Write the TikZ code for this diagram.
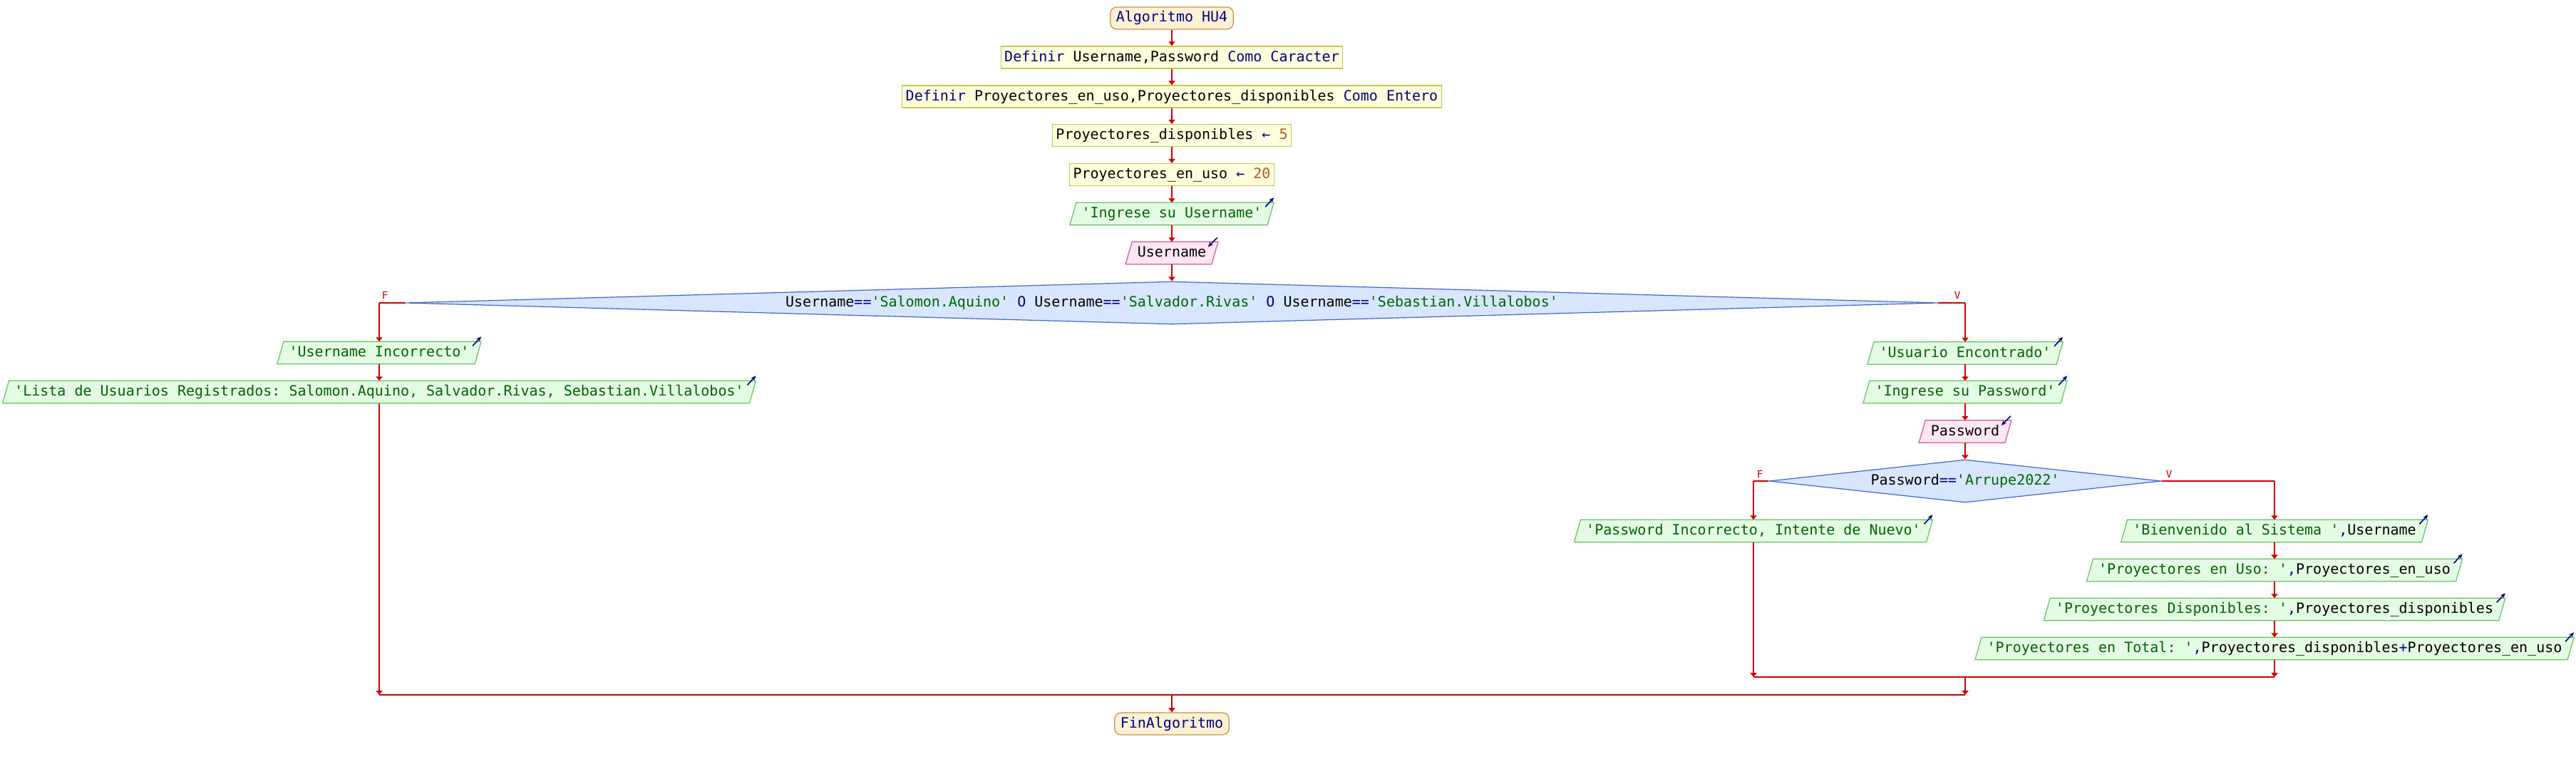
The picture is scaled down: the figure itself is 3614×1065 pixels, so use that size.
\documentclass[tikz,border=0pt]{standalone}
\usepackage{fontspec}
\setmonofont{DejaVu Sans Mono}
\usetikzlibrary{shapes.geometric,arrows.meta,backgrounds}
\definecolor{kw}{HTML}{000080}
\definecolor{strc}{HTML}{006400}
\definecolor{numc}{HTML}{B05A28}
\definecolor{redc}{HTML}{CC0000}
\definecolor{termfill}{HTML}{FFF2D4}
\definecolor{termdraw}{HTML}{C89048}
\definecolor{procfill}{HTML}{FFFFDD}
\definecolor{procdraw}{HTML}{C8C850}
\definecolor{outfill}{HTML}{E4FCE4}
\definecolor{outdraw}{HTML}{66C266}
\definecolor{infill}{HTML}{FFE6F2}
\definecolor{indraw}{HTML}{C8609A}
\definecolor{decfill}{HTML}{D8E6FF}
\definecolor{decdraw}{HTML}{4466CC}
\newcommand\K[1]{\textcolor{kw}{#1}}
\newcommand\Sq[1]{\textcolor{strc}{#1}}
\newcommand\Nm[1]{\textcolor{numc}{#1}}
\tikzset{
 base/.style={font=\ttfamily\fontsize{20}{24}\selectfont, minimum height=31pt, inner ysep=0pt, text height=15pt, text depth=4pt},
 term/.style={base, draw=termdraw, fill=termfill, line width=1.2pt, rounded corners=9pt, inner xsep=8pt, text=kw},
 proc/.style={base, draw=procdraw, fill=procfill, line width=1.2pt, inner xsep=5pt},
 ptxt/.style={base, inner xsep=12pt},
 dec/.style={base, diamond, draw=decdraw, fill=decfill, line width=1.2pt, inner sep=0pt},
 flow/.style={draw=redc, line width=1.6pt, -{Triangle[length=6pt,width=9pt]}},
 thickline/.style={draw=redc, line width=2.6pt},
 lbl/.style={font=\ttfamily\fontsize{14}{16}\selectfont, text=redc, inner sep=0pt},
 icon/.style={draw=kw, line width=1.6pt, -{Stealth[length=7pt,width=6pt]}},
}
\newcommand\outp[3]{%
 \node[ptxt] (#1) at (#2) {#3};
 \begin{pgfonlayer}{background}
 \filldraw[draw=outdraw, fill=outfill, line width=1.2pt] ([xshift=4.5pt]#1.north west) -- ([xshift=4.5pt]#1.north east) -- ([xshift=-4.5pt]#1.south east) -- ([xshift=-4.5pt]#1.south west) -- cycle;
 \end{pgfonlayer}
 \draw[icon] ([xshift=-7.5pt,yshift=-6pt]#1.north east) -- ([xshift=4.5pt,yshift=7pt]#1.north east);
}
\newcommand\inp[3]{%
 \node[ptxt] (#1) at (#2) {#3};
 \begin{pgfonlayer}{background}
 \filldraw[draw=indraw, fill=infill, line width=1.2pt] ([xshift=4.5pt]#1.north west) -- ([xshift=4.5pt]#1.north east) -- ([xshift=-4.5pt]#1.south east) -- ([xshift=-4.5pt]#1.south west) -- cycle;
 \end{pgfonlayer}
 \draw[icon] ([xshift=3.5pt,yshift=6pt]#1.north east) -- ([xshift=-9.5pt,yshift=-7pt]#1.north east);
}
\begin{document}
\begin{tikzpicture}[x=1pt,y=-1pt]
\useasboundingbox (0,0) rectangle (3614,1065);
% main column
\node[term] (start) at (1644,25.5) {Algoritmo HU4};
\node[proc] (def1) at (1644,80.5) {\K{Definir} Username,Password \K{Como Caracter}};
\node[proc] (def2) at (1644,135.5) {\K{Definir} Proyectores\_en\_uso,Proyectores\_disponibles \K{Como Entero}};
\node[proc] (as1) at (1644,190) {Proyectores\_disponibles \K{←} \Nm{5}};
\node[proc] (as2) at (1644,245) {Proyectores\_en\_uso \K{←} \Nm{20}};
\outp{o1}{1644,300}{\Sq{'Ingrese su Username'}}
\inp{i1}{1644,355}{Username}
\node[dec, minimum width=2149pt, minimum height=60pt, shape aspect=36] (d1) at (1644,425) {Username\K{==}\Sq{'Salomon.Aquino'} \K{O} Username\K{==}\Sq{'Salvador.Rivas'} \K{O} Username\K{==}\Sq{'Sebastian.Villalobos'}};
% left branch
\outp{ui}{532,495}{\Sq{'Username Incorrecto'}}
\outp{lista}{532,550}{\Sq{'Lista de Usuarios Registrados: Salomon.Aquino, Salvador.Rivas, Sebastian.Villalobos'}}
% right branch
\outp{ue}{2757,495.5}{\Sq{'Usuario Encontrado'}}
\outp{ip}{2757,550}{\Sq{'Ingrese su Password'}}
\inp{i2}{2757,605.5}{Password}
\node[dec, minimum width=550pt, minimum height=60pt, shape aspect=9] (d2) at (2757,675) {Password\K{==}\Sq{'Arrupe2022'}};
\outp{pi}{2460,745}{\Sq{'Password Incorrecto, Intente de Nuevo'}}
\outp{bv}{3191,745}{\Sq{'Bienvenido al Sistema '}\K{,}Username}
\outp{uso}{3191,800}{\Sq{'Proyectores en Uso: '}\K{,}Proyectores\_en\_uso}
\outp{disp}{3191,855}{\Sq{'Proyectores Disponibles: '}\K{,}Proyectores\_disponibles}
\outp{tot}{3191,910}{\Sq{'Proyectores en Total: '}\K{,}Proyectores\_disponibles\K{+}Proyectores\_en\_uso}
\node[term] (fin) at (1644,1015.5) {FinAlgoritmo};
% coordinates
\coordinate (c1f) at (532,425);
\coordinate (c1v) at (2757,425);
\coordinate (c2f) at (2460,675);
\coordinate (c2v) at (3191,675);
\coordinate (j1l) at (2460,950);
\coordinate (j1r) at (3191,950);
\coordinate (j1m) at (2757,950);
\coordinate (j2l) at (532,975);
\coordinate (j2r) at (2757,975);
\coordinate (j2m) at (1644,975);
% connectors
\draw[flow] (start) -- (def1);
\draw[flow] (def1) -- (def2);
\draw[flow] (def2) -- (as1);
\draw[flow] (as1) -- (as2);
\draw[flow] (as2) -- (o1);
\draw[flow] (o1) -- (i1);
\draw[flow] (i1) -- (d1.north);
\draw[thickline] (d1.west) -- (c1f);
\draw[flow] (c1f) -- (ui);
\draw[flow] (ui) -- (lista);
\draw[thickline] (d1.east) -- (c1v);
\draw[flow] (c1v) -- (ue);
\draw[flow] (ue) -- (ip);
\draw[flow] (ip) -- (i2);
\draw[flow] (i2) -- (d2.north);
\draw[thickline] (d2.west) -- (c2f);
\draw[flow] (c2f) -- (pi);
\draw[thickline] (d2.east) -- (c2v);
\draw[flow] (c2v) -- (bv);
\draw[flow] (bv) -- (uso);
\draw[flow] (uso) -- (disp);
\draw[flow] (disp) -- (tot);
\draw[flow] (pi) -- (j1l);
\draw[flow] (tot) -- (j1r);
\draw[thickline] (j1l) -- (j1r);
\draw[flow] (j1m) -- (j2r);
\draw[flow] (lista) -- (j2l);
\draw[thickline] (j2l) -- (j2r);
\draw[flow] (j2m) -- (fin);
% labels
\node[lbl, anchor=south] (lf1) at (540,420) {F};
\node[lbl, anchor=south] (lv1) at (2746,420) {V};
\node[lbl, anchor=south] (lf2) at (2469,671) {F};
\node[lbl, anchor=south] (lv2) at (3043,671) {V};
\end{tikzpicture}
\end{document}
